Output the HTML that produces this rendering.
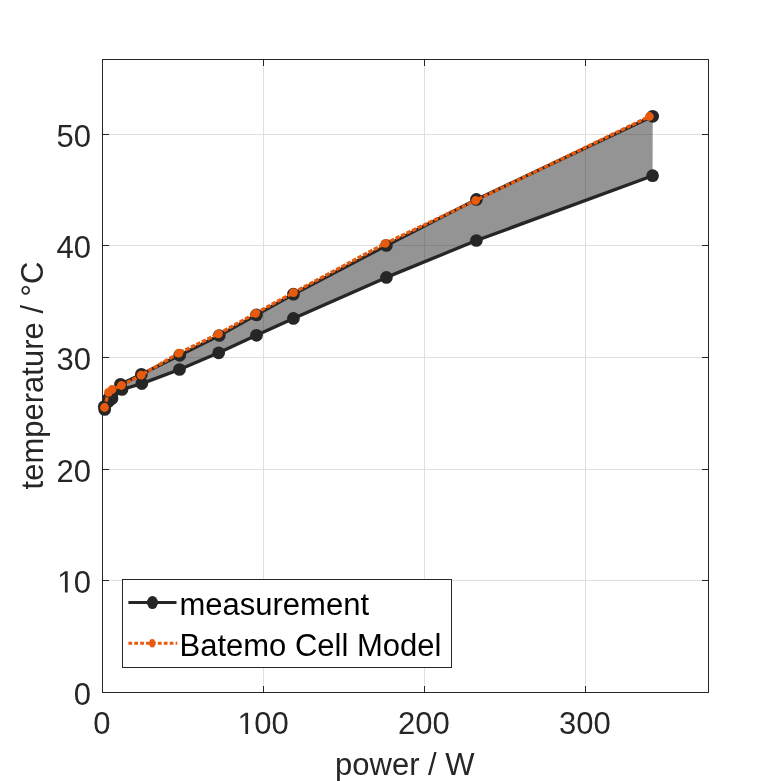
<!DOCTYPE html>
<html><head><meta charset="utf-8"><style>
html,body{margin:0;padding:0;background:#fff;width:781px;height:781px;overflow:hidden}
svg{display:block;will-change:transform}
text{font-family:"Liberation Sans",sans-serif}
</style></head><body>
<svg width="781" height="781" viewBox="0 0 781 781">
<rect width="781" height="781" fill="#fff"/>
<polygon points="104.3,406.5 108.8,398.2 112.0,394.0 120.5,384.3 141.4,374.3 179.7,355.3 219.3,335.5 256.5,314.9 293.4,294.2 386.4,245.5 476.4,199.4 652.7,116.3 652.6,175.7 476.4,240.5 386.4,277.4 293.4,318.4 256.5,335.3 218.7,352.8 179.5,369.5 141.8,383.6 122.0,389.5 112.0,398.5 108.5,401.5 104.7,409.5" fill="#949494" stroke="none"/>
<path d="M263.5 60V692 M424.5 60V692 M585.5 60V692 M103 580.5H708 M103 469.5H708 M103 357.5H708 M103 245.5H708 M103 134.5H708" stroke="#262626" stroke-opacity="0.15" stroke-width="1" fill="none" shape-rendering="crispEdges"/>
<rect x="102.5" y="59.5" width="606" height="633" fill="none" stroke="#262626" stroke-width="1" shape-rendering="crispEdges"/>
<path d="M263.5 692V686 M263.5 60V66 M424.5 692V686 M424.5 60V66 M585.5 692V686 M585.5 60V66 M103 580.5H109 M708 580.5H702 M103 469.5H109 M708 469.5H702 M103 357.5H109 M708 357.5H702 M103 245.5H109 M708 245.5H702 M103 134.5H109 M708 134.5H702" stroke="#262626" stroke-width="1" fill="none" shape-rendering="crispEdges"/>
<polyline points="104.7,409.5 108.5,401.5 112.0,398.5 122.0,389.5 141.8,383.6 179.5,369.5 218.7,352.8 256.5,335.3 293.4,318.4 386.4,277.4 476.4,240.5 652.6,175.7" fill="none" stroke="#262626" stroke-width="3.3" stroke-linejoin="round"/>
<circle cx="104.7" cy="409.5" r="6.35" fill="#262626"/>
<circle cx="108.5" cy="401.5" r="6.35" fill="#262626"/>
<circle cx="112" cy="398.5" r="6.35" fill="#262626"/>
<circle cx="122" cy="389.5" r="6.35" fill="#262626"/>
<circle cx="141.8" cy="383.6" r="6.35" fill="#262626"/>
<circle cx="179.5" cy="369.5" r="6.35" fill="#262626"/>
<circle cx="218.7" cy="352.8" r="6.35" fill="#262626"/>
<circle cx="256.5" cy="335.3" r="6.35" fill="#262626"/>
<circle cx="293.4" cy="318.4" r="6.35" fill="#262626"/>
<circle cx="386.4" cy="277.4" r="6.35" fill="#262626"/>
<circle cx="476.4" cy="240.5" r="6.35" fill="#262626"/>
<circle cx="652.6" cy="175.7" r="6.35" fill="#262626"/>
<polyline points="104.3,406.5 108.8,398.2 112.0,394.0 120.5,384.3 141.4,374.3 179.7,355.3 219.3,335.5 256.5,314.9 293.4,294.2 386.4,245.5 476.4,199.4 652.7,116.3" fill="none" stroke="#262626" stroke-width="3.3" stroke-linejoin="round"/>
<circle cx="104.3" cy="406.5" r="6.35" fill="#262626"/>
<circle cx="108.8" cy="398.2" r="6.35" fill="#262626"/>
<circle cx="112" cy="394" r="6.35" fill="#262626"/>
<circle cx="120.5" cy="384.3" r="6.35" fill="#262626"/>
<circle cx="141.4" cy="374.3" r="6.35" fill="#262626"/>
<circle cx="179.7" cy="355.3" r="6.35" fill="#262626"/>
<circle cx="219.3" cy="335.5" r="6.35" fill="#262626"/>
<circle cx="256.5" cy="314.9" r="6.35" fill="#262626"/>
<circle cx="293.4" cy="294.2" r="6.35" fill="#262626"/>
<circle cx="386.4" cy="245.5" r="6.35" fill="#262626"/>
<circle cx="476.4" cy="199.4" r="6.35" fill="#262626"/>
<circle cx="652.7" cy="116.3" r="6.35" fill="#262626"/>
<polyline points="104.5,407.5 108.5,392.3 112.0,389.5 121.4,385.5 141.1,375.2 178.7,353.2 218.4,333.9 255.5,313.3 293.4,292.7 385.3,243.4 475.6,200.5 649.4,116.5" fill="none" stroke="#E85A0E" stroke-width="3.3" stroke-dasharray="4.5 1.6"/>
<circle cx="104.5" cy="407.5" r="4.4" fill="#E85A0E"/>
<circle cx="108.5" cy="392.3" r="4.4" fill="#E85A0E"/>
<circle cx="112" cy="389.5" r="4.4" fill="#E85A0E"/>
<circle cx="121.4" cy="385.5" r="4.4" fill="#E85A0E"/>
<circle cx="141.1" cy="375.2" r="4.4" fill="#E85A0E"/>
<circle cx="178.7" cy="353.2" r="4.4" fill="#E85A0E"/>
<circle cx="218.4" cy="333.9" r="4.4" fill="#E85A0E"/>
<circle cx="255.5" cy="313.3" r="4.4" fill="#E85A0E"/>
<circle cx="293.4" cy="292.7" r="4.4" fill="#E85A0E"/>
<circle cx="385.3" cy="243.4" r="4.4" fill="#E85A0E"/>
<circle cx="475.6" cy="200.5" r="4.4" fill="#E85A0E"/>
<circle cx="649.4" cy="116.5" r="4.4" fill="#E85A0E"/>
<g font-family="Liberation Sans, sans-serif" font-size="31" fill="#262626">
<text x="91" y="704.5" text-anchor="end">0</text>
<text x="91" y="592.5" text-anchor="end"> 0</text>
<text x="91" y="481.5" text-anchor="end">20</text>
<text x="91" y="369.5" text-anchor="end">30</text>
<text x="91" y="257.5" text-anchor="end">40</text>
<text x="91" y="146.5" text-anchor="end">50</text>
<text x="101.8" y="734" text-anchor="middle">0</text>
<text x="262.8" y="734" text-anchor="middle"> 00</text>
<text x="423.8" y="734" text-anchor="middle">200</text>
<text x="584.8" y="734" text-anchor="middle">300</text>
<path transform="translate(56.52,592.5) scale(0.015137,-0.015137)" d="M555 0L555 1237L237 1010L237 1180L570 1409L736 1409L736 0Z"/>
<path transform="translate(236.94,734) scale(0.015137,-0.015137)" d="M555 0L555 1237L237 1010L237 1180L570 1409L736 1409L736 0Z"/>
<text x="404.8" y="775.3" text-anchor="middle">power / W</text>
<text transform="translate(43,375.5) rotate(-90)" text-anchor="middle">temperature / °C</text>
</g>
<rect x="122.5" y="579.5" width="329" height="88" fill="#fff" stroke="#262626" stroke-width="1" shape-rendering="crispEdges"/>
<path d="M128.4 602.4H176.5" stroke="#262626" stroke-width="3"/>
<ellipse cx="152.45" cy="602.5" rx="5.3" ry="6.6" fill="#262626"/><ellipse cx="152.45" cy="602.5" rx="6.2" ry="3.5" fill="#262626"/>
<path d="M128.4 643.3H177.2" stroke="#E85A0E" stroke-width="3" stroke-dasharray="3.75 2.15"/>
<ellipse cx="152.2" cy="643.3" rx="3.0" ry="4.3" fill="#E85A0E"/>
<g font-family="Liberation Sans, sans-serif" font-size="31" fill="#000">
<text x="179.5" y="615">measurement</text>
<text x="179.5" y="655.7">Batemo Cell Model</text>
</g>
</svg>
</body></html>
